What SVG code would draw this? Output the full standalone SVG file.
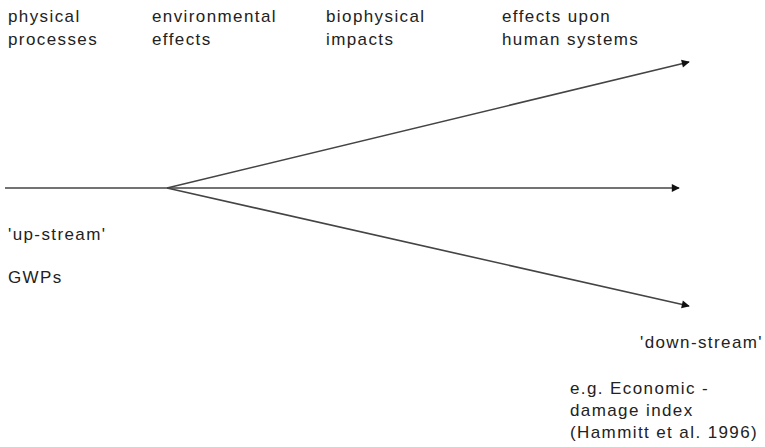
<svg xmlns="http://www.w3.org/2000/svg" width="765" height="447" viewBox="0 0 765 447">
<style>
text{font-family:"Liberation Sans",Arial,sans-serif;font-size:17px;fill:#222;letter-spacing:1.4px}
.ln{stroke:#444;stroke-width:1.6;fill:none}
</style>
<defs>
<marker id="ah" viewBox="0 0 10 10" refX="9" refY="5" markerWidth="9" markerHeight="8" orient="auto" markerUnits="userSpaceOnUse" overflow="visible">
<path d="M0,0 L10,5 L0,10 Z" fill="#111"/>
</marker>
</defs>
<g id="labels">
<g id="physical"><text x="8" y="22">physical</text><text x="8" y="45">processes</text></g>
<g id="environmental"><text x="152" y="22">environmental</text><text x="152" y="45">effects</text></g>
<g id="biophysical"><text x="326" y="22">biophysical</text><text x="326" y="45">impacts</text></g>
<g id="human"><text x="502" y="22">effects upon</text><text x="502" y="45">human systems</text></g>
<g id="upstream"><text x="8" y="240">'up-stream'</text><text x="8" y="283">GWPs</text></g>
<g id="downstream"><text x="640" y="348">'down-stream'</text></g>
<g id="economic"><text x="570" y="394">e.g. Economic -</text><text x="570" y="416">damage index</text><text x="570" y="438">(Hammitt et al. 1996)</text></g>
</g>
<g id="connectors">
<line class="ln" x1="5" y1="188" x2="167" y2="188"/>
<line class="ln" x1="167" y1="188" x2="679" y2="188" marker-end="url(#ah)"/>
<line class="ln" x1="167" y1="188" x2="689" y2="62" marker-end="url(#ah)"/>
<line class="ln" x1="167" y1="188" x2="689" y2="306" marker-end="url(#ah)"/>
</g>
</svg>
